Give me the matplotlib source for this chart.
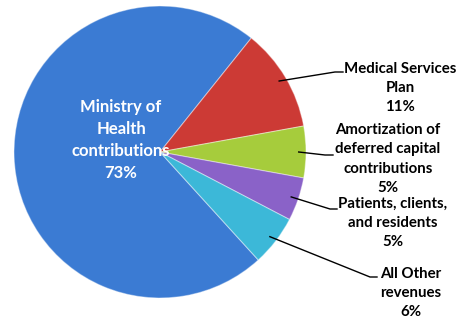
import numpy as np
import matplotlib
matplotlib.use("Agg")
import matplotlib.pyplot as plt

# slice shares (labels show the rounded values)
categories = ["Ministry of\nHealth\ncontributions", "Medical Services\nPlan",
              "Amortization of\ndeferred capital\ncontributions",
              "Patients, clients,\nand residents", "All Other\nrevenues"]
shares = [72.5, 11.4, 5.7, 4.8, 5.6]
pct_labels = ["73%", "11%", "5%", "5%", "6%"]
colors = ["#3b7bd3", "#cc3a35", "#a6cc3c", "#8a62c8", "#3cb8d8"]

plt.rcParams['font.family'] = ['Lato', 'DejaVu Sans']

W, H = 458, 322
fig = plt.figure(figsize=(W / 100, H / 100), dpi=100)
cx, cy, R = 160, 152, 146  # pie centre / radius in pixels (top-down y)
ax = fig.add_axes([(cx - R) / W, (H - cy - R) / H, 2 * R / W, 2 * R / H])

start = 51.3 + shares[0] * 3.6
wedges, _ = ax.pie(shares, colors=colors, startangle=start, counterclock=False,
                   radius=1.0,
                   wedgeprops=dict(edgecolor=(1, 1, 1, 0.4), linewidth=0.8))
ax.set_xlim(-1, 1)
ax.set_ylim(-1, 1)
ax.set_aspect('equal')
ax.axis('off')

# label layout (figure pixels, y measured from top)
label_pos = [None, (400, 88), (388, 159), (393, 223), (411, 293)]
elbows = [None, ((335, 72), (343, 72)), ((325, 155), (333, 155)),
          ((330, 209), (337, 209)), ((370, 277), (377, 277))]

for i, w in enumerate(wedges):
    txt = categories[i] + "\n" + pct_labels[i]
    if i == 0:
        fig.text(121 / W, 1 - 140 / H, txt, ha='center', va='center',
                 color='white', fontsize=12, fontweight='bold', linespacing=1.45)
        continue
    mid = np.deg2rad((w.theta1 + w.theta2) / 2)
    p0 = (cx + 0.95 * R * np.cos(mid), cy - 0.95 * R * np.sin(mid))
    (p1, p2) = elbows[i]
    xs = [p0[0], p1[0], p2[0]]
    ys = [H - p0[1], H - p1[1], H - p2[1]]
    fig.add_artist(plt.Line2D([x / W for x in xs], [y / H for y in ys],
                              color='black', linewidth=1.0))
    lx, ly = label_pos[i]
    fig.text(lx / W, 1 - ly / H, txt, ha='center', va='center',
             color='black', fontsize=10.8, fontweight='bold', linespacing=1.48)

fig.savefig("out.png", dpi=100)
